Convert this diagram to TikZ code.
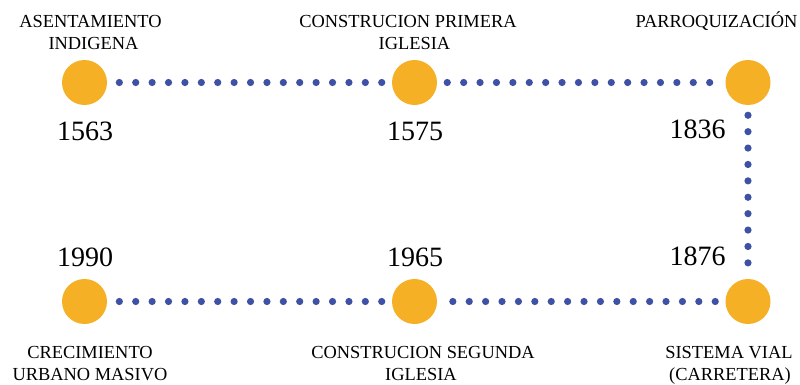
\documentclass[tikz,border=0pt]{standalone}
\usepackage{fontspec}
\setmainfont{Liberation Serif}
\usepackage{tikz}

\definecolor{hitoorange}{RGB}{245,176,38}
\definecolor{hitoblue}{RGB}{63,81,164}

\begin{document}
\begin{tikzpicture}[x=0.75pt,y=0.75pt,yscale=-1,xscale=1,
    hito/.style={circle,fill=hitoorange,inner sep=0pt,minimum size=33.75pt},
    dotline/.style={draw=hitoblue,line width=5.4pt,line cap=round,dash pattern={on 0pt off 12.3pt},shorten <=7.5pt,shorten >=7.5pt},
    etiqueta/.style={anchor=base,inner sep=0pt,font=\fontsize{13.8pt}{16pt}\selectfont},
    anio/.style={anchor=base,inner sep=0pt,font=\fontsize{21pt}{25pt}\selectfont}]
                  \useasboundingbox (0,0) rectangle (800,385); %diagram 800 x 385

                  %Hitos (circles)
                  \node [hito] (h1563) at (84.5,82.5) {};
                  \node [hito] (h1575) at (414.5,82.5) {};
                  \node [hito] (h1836) at (748,82.5) {};
                  \node [hito] (h1876) at (748,301.5) {};
                  \node [hito] (h1965) at (414.5,301.5) {};
                  \node [hito] (h1990) at (84.5,301.5) {};

                  %Dotted connectors
                  \draw [dotline] (h1575) -- (h1563);
                  \draw [dotline] (h1575) -- (h1836);
                  \draw [dotline] (h1836) -- (h1876);
                  \draw [dotline] (h1876) -- (h1965);
                  \draw [dotline] (h1965) -- (h1990);

                  % Text Node
                  \node [etiqueta] (tAsent) at (90.5,28) {ASENTAMIENTO};
                  \node [etiqueta] (tIndig) at (93.5,50) {INDIGENA};
                  % Text Node
                  \node [etiqueta] (tConstP) at (408,28) {CONSTRUCION PRIMERA};
                  \node [etiqueta] (tIgleP) at (414.5,50) {IGLESIA};
                  % Text Node
                  \node [etiqueta] (tParroq) at (716.5,27.5) {PARROQUIZACIÓN};
                  % Text Node
                  \node [etiqueta] (tCrec) at (90,358) {CRECIMIENTO};
                  \node [etiqueta] (tUrb) at (90,380) {URBANO MASIVO};
                  % Text Node
                  \node [etiqueta] (tConstS) at (423,358) {CONSTRUCION SEGUNDA};
                  \node [etiqueta] (tIgleS) at (421,380) {IGLESIA};
                  % Text Node
                  \node [etiqueta] (tSist) at (729,358) {SISTEMA VIAL};
                  \node [etiqueta] (tCarr) at (730,380) {(CARRETERA)};

                  % Years
                  \node [anio] (a1563) at (85,140) {1563};
                  \node [anio] (a1575) at (415,140) {1575};
                  \node [anio,anchor=base east] (a1836) at (726,138) {1836};
                  \node [anio,anchor=base east] (a1876) at (726,265) {1876};
                  \node [anio] (a1965) at (415,266) {1965};
                  \node [anio] (a1990) at (85,266) {1990};

              \end{tikzpicture}
\end{document}
